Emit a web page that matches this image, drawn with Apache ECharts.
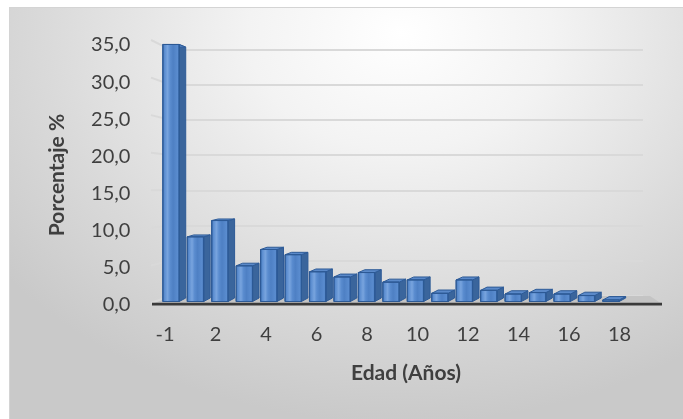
<!DOCTYPE html>
<html>
<head>
<meta charset="utf-8">
<script src="https://cdn.jsdelivr.net/npm/echarts@6/dist/echarts.min.js"></script>
<style>
  html,body{margin:0;padding:0;background:#fff;}
  #bg{position:absolute;left:9px;top:7px;width:674px;height:412px;box-sizing:border-box;
      border-top:1px solid #d4d4d4;border-left:1px solid #d4d4d4;
      background:radial-gradient(ellipse 75% 95% at 58% 6%, #ffffff 0%, #f3f3f3 30%, #dadada 70%, #c9c9c9 100%);}
  #main{position:absolute;left:0;top:0;width:683px;height:419px;}
</style>
</head>
<body>
<div id="bg"></div>
<div id="main"></div>
<script>
// ---- data ----
const categories = ['-1','1','2','3','4','5','6','7','8','9','10','11','12','13','14','15','16','17','18'];
const values = [34.6, 8.7, 10.9, 4.8, 7.0, 6.3, 4.0, 3.3, 3.9, 2.6, 2.9, 1.1, 2.9, 1.5, 1.0, 1.2, 1.0, 0.8, 0.2];
const yTicks = [0, 5, 10, 15, 20, 25, 30, 35];
const yTitle = 'Porcentaje %';
const xTitle = 'Edad (Años)';

const TXT = '#3f3f3f';
const FONT = 'Lato';
const chart = echarts.init(document.getElementById('main'), null, {renderer: 'canvas'});

function renderBar(params, api) {
  const i = api.value(0), v = api.value(1);
  const p1 = api.coord([i, v]);
  const p0 = api.coord([i, 0]);
  const cx = p1[0];
  const halfW = 8.2, dx = 6.5;
  const xL = cx - halfW, xR = cx + halfW;
  const yBB = p0[1] - 3.5;
  const yBT = yBB - (p0[1] - p1[1]) * 0.976;
  const edge = '#2d5a96';
  return {
    type: 'group',
    children: [
      {type: 'polygon', shape: {points: [[xR, p1[1]], [xR + dx, yBT], [xR + dx, yBB], [xR, p0[1]]]},
       style: {fill: '#3a659c', stroke: edge, lineWidth: 1}},
      {type: 'polygon', shape: {points: [[xL, p1[1]], [xL + dx, yBT], [xR + dx, yBT], [xR, p1[1]]]},
       style: {fill: '#5a89c9', stroke: edge, lineWidth: 1}},
      {type: 'rect', shape: {x: xL, y: p1[1], width: xR - xL, height: p0[1] - p1[1]},
       style: {
         fill: new echarts.graphic.LinearGradient(0, 0, 1, 0, [
           {offset: 0, color: '#3565a5'}, {offset: 0.12, color: '#5a8ccf'},
           {offset: 0.3, color: '#78a4de'}, {offset: 0.45, color: '#5a8ccf'},
           {offset: 0.62, color: '#4e80c4'}, {offset: 0.88, color: '#5a8ccf'},
           {offset: 1, color: '#3565a5'}]),
         stroke: edge, lineWidth: 1}}
    ]
  };
}

const option = {
  backgroundColor: 'transparent',
  animation: false,
  textStyle: {fontFamily: FONT},
  grid: [
    {left: 158.8, right: 59.8, top: 41.5, bottom: 117.5},   // bars
    {left: 152.4, right: 50.8, top: 45, bottom: 114},        // front labels
    {left: 170, right: 40, top: 49.3, bottom: 123}           // back wall
  ],
  xAxis: [
    {gridIndex: 0, type: 'category', data: categories, show: false},
    {gridIndex: 1, type: 'category', data: categories,
     axisLine: {show: false}, axisTick: {show: false},
     axisLabel: {interval: 1, margin: 20, fontSize: 20, color: TXT, fontFamily: FONT}},
    {gridIndex: 2, type: 'value', min: 0, max: 1, show: false}
  ],
  yAxis: [
    {gridIndex: 0, type: 'value', min: 0, max: 35, show: false},
    {gridIndex: 1, type: 'value', min: 0, max: 35, interval: 5,
     axisLine: {show: false}, axisTick: {show: false}, splitLine: {show: false},
     axisLabel: {margin: 22, fontSize: 20, color: TXT, fontFamily: FONT,
       formatter: v => v.toFixed(1).replace('.', ',')},
     name: yTitle, nameLocation: 'middle', nameGap: 85,
     nameTextStyle: {fontSize: 21, fontWeight: 'bold', color: TXT, fontFamily: FONT}},
    {gridIndex: 2, type: 'value', min: 0, max: 35, interval: 5,
     axisLine: {show: false}, axisTick: {show: false}, axisLabel: {show: false},
     splitLine: {show: true, lineStyle: {color: '#d9d9d9', width: 2}}}
  ],
  graphic: [
    {type: 'polygon', z: 1, shape: {points: [[152, 304], [662, 304], [650, 296], [170, 296]]},
     style: {fill: '#c4c4c4'}},
    {type: 'rect', z: 10, shape: {x: 152, y: 302.8, width: 510, height: 2.8}, style: {fill: '#3a3a3a'}},
    {type: 'text', z: 10, x: 406, y: 373,
     style: {text: xTitle, fontSize: 21, fontWeight: 'bold', fontFamily: FONT, fill: TXT,
             align: 'center', verticalAlign: 'middle'}}
  ],
  series: [
    {type: 'custom', xAxisIndex: 0, yAxisIndex: 0, z: 5,
     data: values.map((v, i) => [i, v]), encode: {x: 0, y: 1},
     renderItem: renderBar}
  ]
};
chart.setOption(option);

// slanted ticks joining the front label scale to the back wall gridlines
const tickPts = yTicks.map(v => {
  const f = chart.convertToPixel({gridIndex: 1}, [categories[0], v]);
  const b = chart.convertToPixel({gridIndex: 2}, [0, v]);
  return [151, f[1] - 2 - 3 * v / 35, b[0], b[1]];
});
chart.setOption({
  series: [
    option.series[0],
    {type: 'custom', coordinateSystem: 'none', z: 3, silent: true,
     data: yTicks.map((v, i) => [i]),
     renderItem: (params, api) => {
       const t = tickPts[params.dataIndex];
       return {type: 'line', shape: {x1: t[0], y1: t[1], x2: t[2], y2: t[3]},
               style: {stroke: '#d9d9d9', lineWidth: 2}};
     }}
  ]
});
</script>
</body>
</html>
